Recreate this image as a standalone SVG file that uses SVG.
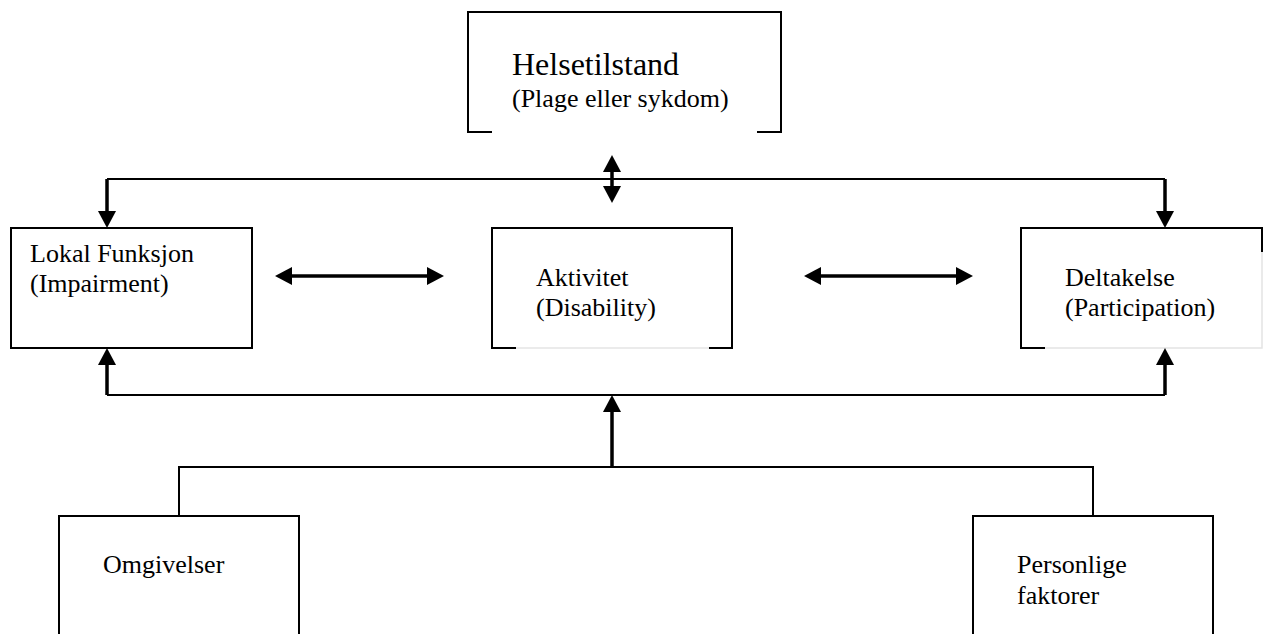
<svg xmlns="http://www.w3.org/2000/svg" width="1264" height="634" viewBox="0 0 1264 634">
<style>
.box{fill:none;stroke:#000;stroke-width:2}
.faint{fill:none;stroke:#e4e4e4;stroke-width:1.5}
.t{font-family:"Liberation Serif","Times New Roman",serif;font-size:26px;fill:#000}
.big{font-size:32px}
.wire{fill:none;stroke:#000;stroke-width:2}
.arr{fill:none;stroke:#000;stroke-width:3.5;marker-end:url(#ah)}
.darr{fill:none;stroke:#000;stroke-width:3.5;marker-end:url(#ah);marker-start:url(#ah)}
</style>
<defs>
<marker id="ah" markerUnits="userSpaceOnUse" markerWidth="18" markerHeight="18" viewBox="0 0 18 18" refX="6" refY="9" orient="auto-start-reverse">
<path d="M0,0 L17,9 L0,18 z" fill="#000"/>
</marker>
</defs>
<rect width="1264" height="634" fill="#fff"/>

<g id="helsetilstand">
<path class="box" d="M492,132 H468 V12 H781 V132 H757"/>
<text class="t big" x="512" y="75">Helsetilstand</text>
<text class="t" x="512" y="107">(Plage eller sykdom)</text>
</g>

<g id="lokal-funksjon">
<rect class="box" x="11" y="228" width="241" height="120"/>
<text class="t" x="30" y="262">Lokal Funksjon</text>
<text class="t" x="30" y="292">(Impairment)</text>
</g>

<g id="aktivitet">
<path class="box" d="M516,348 H492 V228 H732 V348 H709"/>
<path class="faint" d="M516,348 H709"/>
<text class="t" x="536" y="286">Aktivitet</text>
<text class="t" x="536" y="316">(Disability)</text>
</g>

<g id="deltakelse">
<path class="box" d="M1045,348 H1021 V228 H1262 V252"/>
<path class="faint" d="M1045,348 H1262 V252"/>
<text class="t" x="1065" y="286">Deltakelse</text>
<text class="t" x="1065" y="316">(Participation)</text>
</g>

<g id="omgivelser">
<path class="box" d="M59,640 V516 H299 V640"/>
<text class="t" x="103" y="573">Omgivelser</text>
</g>

<g id="personlige-faktorer">
<path class="box" d="M973,640 V516 H1213 V640"/>
<text class="t" x="1017" y="573">Personlige</text>
<text class="t" x="1017" y="604">faktorer</text>
</g>

<g id="connectors">
<path class="wire" d="M107,179 H1165"/>
<path class="arr" d="M107,179 V217"/>
<path class="arr" d="M1165,179 V217"/>
<path class="darr" d="M612,166 V192"/>
<path class="darr" d="M286,276 H433"/>
<path class="darr" d="M815,276 H962"/>
<path class="wire" d="M107,395 H1165"/>
<path class="arr" d="M107,395 V359"/>
<path class="arr" d="M1165,395 V359"/>
<path class="arr" d="M612,467 V406"/>
<path class="wire" d="M179,516 V467 H1093 V516"/>
</g>
</svg>
